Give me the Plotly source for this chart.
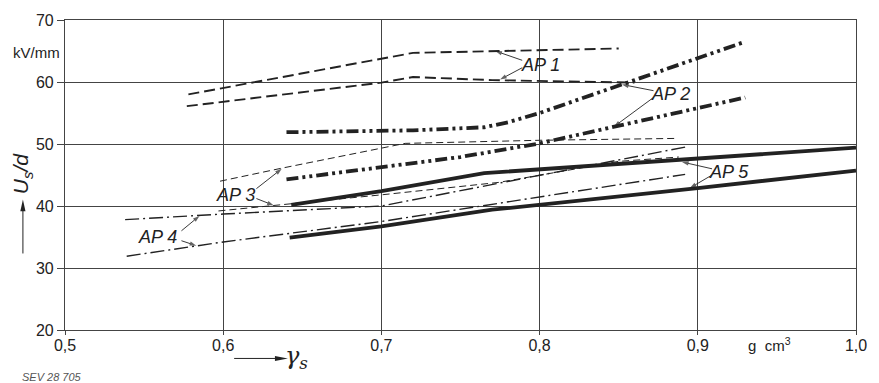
import plotly.graph_objects as go

# Breakdown field strength U_s/d versus density gamma_s for five materials
ap1_upper_x = [0.578, 0.72, 0.85]
ap1_upper_y = [58.0, 64.7, 65.4]
ap1_lower_x = [0.577, 0.70, 0.72, 0.77, 0.86]
ap1_lower_y = [56.1, 59.9, 60.8, 60.3, 59.9]

ap2_upper_x = [0.64, 0.72, 0.765, 0.78, 0.80, 0.93]
ap2_upper_y = [51.9, 52.2, 52.7, 53.5, 55.0, 66.5]
ap2_lower_x = [0.64, 0.70, 0.75, 0.80, 0.90, 0.93]
ap2_lower_y = [44.3, 46.3, 47.9, 50.1, 55.9, 57.5]

ap3_upper_x = [0.598, 0.637, 0.715, 0.80, 0.886]
ap3_upper_y = [44.0, 46.1, 50.1, 50.6, 50.9]
ap3_lower_x = [0.597, 0.70, 0.774, 0.85, 0.888]
ap3_lower_y = [39.2, 41.8, 43.8, 47.2, 47.9]

ap4_upper_x = [0.538, 0.60, 0.70, 0.80, 0.894]
ap4_upper_y = [37.8, 38.7, 40.0, 45.0, 49.6]
ap4_lower_x = [0.539, 0.60, 0.70, 0.80, 0.892]
ap4_lower_y = [31.9, 34.2, 37.5, 41.4, 45.1]

ap5_upper_x = [0.643, 0.70, 0.765, 0.85, 0.90, 1.0]
ap5_upper_y = [40.2, 42.4, 45.3, 46.8, 47.6, 49.4]
ap5_lower_x = [0.642, 0.70, 0.77, 0.85, 0.90, 1.0]
ap5_lower_y = [34.9, 36.7, 39.4, 41.5, 42.9, 45.7]

x_ticks = [0.5, 0.6, 0.7, 0.8, 0.9, 1.0]
x_tick_text = ["0,5", "0,6", "0,7", "0,8", "0,9", "1,0"]
y_ticks = [20, 30, 40, 50, 60, 70]
y_tick_text = ["20", "30", "40", "50", "60", "70"]

INK = "#222222"
GRID = "#444444"
FONT = "Liberation Sans, Arial, sans-serif"

styles = {
    "AP1": dict(width=1.9, dash="11px,5px"),
    "AP2": dict(width=3.8, dash="12px,4px,3px,4px,3px,4px"),
    "AP3": dict(width=1.0, dash="7px,4px"),
    "AP4": dict(width=1.4, dash="14px,4px,2px,4px"),
    "AP5": dict(width=3.8, dash="solid"),
}

series = [
    ("AP1", ap1_upper_x, ap1_upper_y), ("AP1", ap1_lower_x, ap1_lower_y),
    ("AP2", ap2_upper_x, ap2_upper_y), ("AP2", ap2_lower_x, ap2_lower_y),
    ("AP3", ap3_upper_x, ap3_upper_y), ("AP3", ap3_lower_x, ap3_lower_y),
    ("AP4", ap4_upper_x, ap4_upper_y), ("AP4", ap4_lower_x, ap4_lower_y),
    ("AP5", ap5_upper_x, ap5_upper_y), ("AP5", ap5_lower_x, ap5_lower_y),
]

fig = go.Figure()
for name, xs, ys in series:
    st = styles[name]
    fig.add_trace(go.Scatter(
        x=xs, y=ys, mode="lines", name=name, showlegend=False,
        line=dict(color=INK, width=st["width"], dash=st["dash"]),
        hoverinfo="skip",
    ))

# Curve labels, each with two pointer arrows (label position, tail1, head1, tail2, head2)
labels = [
    ("AP 1", (0.8006, 62.7), (0.789, 63.5), (0.772, 65.0), (0.789, 62.3), (0.775, 60.4)),
    ("AP 2", (0.883, 58.0), (0.872, 58.6), (0.852, 59.6), (0.872, 57.5), (0.847, 52.8)),
    ("AP 3", (0.608, 41.85), (0.621, 42.8), (0.637, 46.0), (0.621, 41.2), (0.632, 40.1)),
    ("AP 4", (0.5585, 35.0), (0.5736, 36.0), (0.585, 38.4), (0.5736, 34.4), (0.583, 33.6)),
    ("AP 5", (0.920, 45.5), (0.909, 46.0), (0.890, 47.1), (0.909, 45.0), (0.895, 42.9)),
]
for text, pos, t1, h1, t2, h2 in labels:
    fig.add_annotation(x=pos[0], y=pos[1], text=f"<i>{text}</i>", showarrow=False,
                       xanchor="center", yanchor="middle",
                       font=dict(size=18, color=INK, family=FONT))
    for (tx, ty), (hx, hy) in ((t1, h1), (t2, h2)):
        fig.add_trace(go.Scatter(
            x=[tx, hx], y=[ty, hy], mode="lines+markers", showlegend=False,
            hoverinfo="skip", line=dict(color=INK, width=0.9),
            marker=dict(symbol=["circle", "arrow"], size=[0, 7], color=INK,
                        angleref="previous", line=dict(width=0)),
        ))

# Axis captions (anchored explicitly so paper positions are centres)
def caption(x, y, text, size, angle=0, color=INK, family=FONT):
    fig.add_annotation(xref="paper", yref="paper", x=x, y=y, text=text,
                       showarrow=False, xanchor="center", yanchor="middle",
                       textangle=angle, font=dict(size=size, color=color, family=family))

caption(-0.0365, 0.8965, "kV/mm", 15)
caption(-0.0535, 0.505, "<i>U<sub>s</sub>/d</i>", 21, angle=-90)
caption(0.2925, -0.09, "<i>γ<sub>s</sub></i>", 24, family="DejaVu Serif, serif")
caption(0.8906, -0.0475, "g  cm<sup>3</sup>", 15)
caption(-0.0164, -0.152, "<i>SEV 28 705</i>", 11, color="#555")

# Direction arrows beside the axis captions: shaft lines and filled heads (paper units)
PX = 1 / 795.0
PY = 1 / 316.0
ya_x = (22.7 - 65) * PX
fig.add_shape(type="line", xref="paper", yref="paper",
              x0=ya_x, x1=ya_x, y0=(330 - 252) * PY, y1=(330 - 207) * PY,
              line=dict(color=INK, width=1))
fig.add_shape(type="path", xref="paper", yref="paper",
              path=(f"M {ya_x} {(330 - 197) * PY} "
                    f"L {ya_x - 2.6 * PX} {(330 - 209) * PY} "
                    f"L {ya_x + 2.6 * PX} {(330 - 209) * PY} Z"),
              fillcolor=INK, line=dict(width=0))
xa_y = (330 - 359) * PY
fig.add_shape(type="line", xref="paper", yref="paper",
              x0=(235 - 65) * PX, x1=(278 - 65) * PX, y0=xa_y, y1=xa_y,
              line=dict(color=INK, width=1))
fig.add_shape(type="path", xref="paper", yref="paper",
              path=(f"M {(289 - 65) * PX} {xa_y} "
                    f"L {(276 - 65) * PX} {xa_y + 2.6 * PY} "
                    f"L {(276 - 65) * PX} {xa_y - 2.6 * PY} Z"),
              fillcolor=INK, line=dict(width=0))

axis_common = dict(
    showgrid=True, gridcolor=GRID, gridwidth=1,
    showline=True, linecolor=GRID, linewidth=1.2, mirror=True,
    ticks="outside", tickcolor=GRID, zeroline=False,
    tickfont=dict(size=16, color=INK, family=FONT),
)
fig.update_xaxes(range=[0.5, 1.0], tickvals=x_ticks, ticktext=x_tick_text,
                 ticklen=4, ticklabelstandoff=-3, **axis_common)
fig.update_yaxes(range=[20, 70], tickvals=y_ticks, ticktext=y_tick_text,
                 ticklen=7, **axis_common)

fig.update_layout(
    width=879, height=383,
    margin=dict(l=65, r=19, t=14, b=53),
    paper_bgcolor="white", plot_bgcolor="white",
    showlegend=False,
)

fig.write_html("out.html")
